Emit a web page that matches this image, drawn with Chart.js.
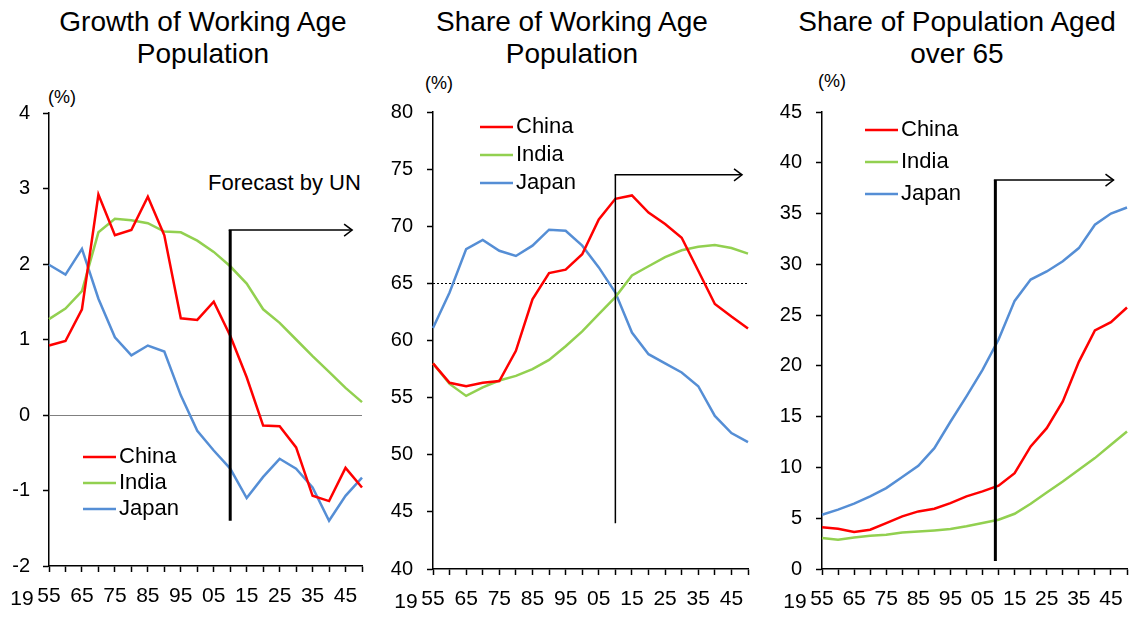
<!DOCTYPE html>
<html>
<head>
<meta charset="utf-8">
<script src="https://cdn.jsdelivr.net/npm/chart.js@4.4.1/dist/chart.umd.min.js"></script>
<style>
  body { margin:0; background:#fff; width:1139px; height:617px; position:relative; overflow:hidden;
         font-family:"Liberation Sans", Arial, sans-serif; color:#000; }
  canvas { position:absolute; top:0; }
  .title { position:absolute; top:6px; font-size:28px; line-height:32px; text-align:center; white-space:nowrap; }
  .unit { position:absolute; font-size:18px; line-height:20px; }
  .note { position:absolute; font-size:22px; line-height:24px; white-space:nowrap; }
</style>
</head>
<body>
<div class="title" style="left:0;width:406px">Growth of Working Age<br>Population</div>
<div class="title" style="left:380px;width:384px">Share of Working Age<br>Population</div>
<div class="title" style="left:775px;width:364px">Share of Population Aged<br>over 65</div>
<div class="unit" style="left:48px;top:87px">(%)</div>
<div class="unit" style="left:425px;top:73px">(%)</div>
<div class="unit" style="left:818px;top:71px">(%)</div>
<div class="note" style="left:208px;top:171px">Forecast by UN</div>

<canvas id="c1" width="380" height="617" style="left:0"></canvas>
<canvas id="c2" width="380" height="617" style="left:380px"></canvas>
<canvas id="c3" width="379" height="617" style="left:760px"></canvas>

<script>
// years 1955..2050, every 5 years
const years = [1955,1960,1965,1970,1975,1980,1985,1990,1995,2000,2005,2010,2015,2020,2025,2030,2035,2040,2045,2050]
const xTickLabels = ['55','','65','','75','','85','','95','','05','','15','','25','','35','','45','']
const xPrefix = '19'
const seriesNames = ['China','India','Japan']
const forecastYear = 2010

// growth of working age population (%)
const growthChina = [0.92,0.98,1.40,2.92,2.38,2.45,2.89,2.38,1.28,1.26,1.50,1.05,0.50,-0.14,-0.15,-0.43,-1.07,-1.14,-0.70,-0.96]
const growthIndia = [1.27,1.41,1.64,2.42,2.60,2.58,2.54,2.43,2.42,2.31,2.16,1.97,1.74,1.40,1.22,1.00,0.78,0.57,0.36,0.17]
const growthJapan = [1.99,1.86,2.20,1.54,1.03,0.79,0.92,0.84,0.26,-0.21,-0.47,-0.71,-1.10,-0.82,-0.58,-0.71,-0.96,-1.40,-1.07,-0.83]

// share of working age population (%)
const shareChina = [58.0,56.3,56.0,56.3,56.45,59.1,63.6,65.9,66.2,67.55,70.6,72.4,72.7,71.2,70.2,69.0,66.1,63.2,62.1,61.05]
const shareIndia = [58.0,56.2,55.15,55.9,56.5,56.9,57.5,58.3,59.5,60.8,62.3,63.8,65.7,66.5,67.3,67.9,68.2,68.35,68.1,67.6]
const shareJapan = [61.1,64.2,68.0,68.8,67.85,67.4,68.3,69.7,69.6,68.3,66.4,64.2,60.7,58.8,58.0,57.2,56.0,53.4,51.9,51.1]

// share of population aged over 65 (%)
const agedChina = [4.1,3.97,3.64,3.87,4.52,5.18,5.67,5.93,6.49,7.15,7.64,8.2,9.44,12.07,13.87,16.5,20.4,23.5,24.3,25.75]
const agedIndia = [3.05,2.89,3.11,3.28,3.38,3.6,3.7,3.8,3.93,4.2,4.52,4.85,5.44,6.43,7.54,8.62,9.77,10.92,12.23,13.54]
const agedJapan = [5.34,5.84,6.43,7.15,7.97,9.05,10.16,11.9,14.5,17.0,19.6,22.6,26.4,28.5,29.3,30.3,31.6,33.9,35.0,35.6]

const colors = ['#FF0000','#92D050','#558ED5']
const fam = '"Liberation Sans", Arial, sans-serif'

const yearIndex = y => (y - years[0]) / 5

const overlay = {
  id: 'overlay',
  beforeDatasetsDraw(chart, args, o) {
    if (o.ref === undefined) return
    const {ctx, chartArea: a, scales: {y}} = chart
    const yy = Math.round(y.getPixelForValue(o.ref.value)) + 0.5
    ctx.save()
    ctx.strokeStyle = o.ref.color
    ctx.lineWidth = 1
    ctx.setLineDash(o.ref.dash || [])
    ctx.beginPath(); ctx.moveTo(a.left, yy); ctx.lineTo(a.right, yy); ctx.stroke()
    ctx.restore()
  },
  afterDatasetsDraw(chart, args, o) {
    const {ctx, scales: {x, y}} = chart
    ctx.save()
    // forecast marker
    const f = o.forecast
    const fx = x.getPixelForValue(yearIndex(f.year))
    const ex = x.getPixelForValue(yearIndex(f.toYear))
    const top = y.getPixelForValue(f.top)
    const bot = y.getPixelForValue(f.bottom)
    ctx.strokeStyle = '#000'
    ctx.lineWidth = f.vWidth
    ctx.beginPath(); ctx.moveTo(fx, bot); ctx.lineTo(fx, top); ctx.stroke()
    ctx.lineWidth = f.hWidth
    ctx.beginPath(); ctx.moveTo(fx - f.vWidth / 2, top); ctx.lineTo(ex, top); ctx.stroke()
    ctx.beginPath(); ctx.moveTo(ex - 8, top - 6); ctx.lineTo(ex, top); ctx.lineTo(ex - 8, top + 6); ctx.stroke()
    // legend
    const lg = o.legend
    ctx.font = '22px ' + fam
    ctx.textBaseline = 'middle'
    ctx.textAlign = 'left'
    chart.data.datasets.forEach((ds, i) => {
      const yy = lg.y + i * lg.gap
      ctx.strokeStyle = ds.borderColor
      ctx.lineWidth = 2.5
      ctx.beginPath(); ctx.moveTo(lg.x, yy); ctx.lineTo(lg.x + 33, yy); ctx.stroke()
      ctx.fillStyle = '#000'
      ctx.fillText(ds.label, lg.x + 36, yy)
    })
    // "19" before the first year label
    ctx.font = '21px ' + fam
    ctx.textAlign = 'center'
    ctx.fillText(xPrefix, x.getPixelForTick(0) - 27, x.top + 33)
    ctx.restore()
  }
}

function makeChart(id, c) {
  return new Chart(document.getElementById(id), {
    type: 'line',
    data: {
      labels: years,
      datasets: c.series.map((d, i) => ({
        label: seriesNames[i], data: d, borderColor: colors[i], backgroundColor: colors[i],
        borderWidth: 2.5, pointRadius: 0, tension: 0, clip: false
      }))
    },
    options: {
      responsive: false, animation: false, devicePixelRatio: 1,
      layout: {padding: {left: 0, top: c.top, right: c.right, bottom: 0}},
      plugins: {
        legend: {display: false}, tooltip: {enabled: false},
        overlay: {ref: c.ref, forecast: c.forecast, legend: c.legend}
      },
      scales: {
        x: {
          offset: false,
          grid: {display: true, drawOnChartArea: false, drawTicks: true, tickLength: 6, tickColor: '#000', tickWidth: 1.5},
          border: {color: '#000', width: 1.5},
          ticks: {autoSkip: false, maxRotation: 0, padding: 12, color: '#000', font: {size: 21, family: fam},
                  callback: (v, i) => xTickLabels[i]},
          afterFit: s => { s.height = c.xh }
        },
        y: {
          min: c.min, max: c.max,
          grid: {display: true, drawOnChartArea: false, drawTicks: true, tickLength: 6, tickColor: '#000', tickWidth: 1.5},
          border: {color: '#000', width: 1.5},
          ticks: {stepSize: c.step, padding: c.pad, color: '#000', font: {size: 20, family: fam}},
          afterFit: s => { s.width = c.yw }
        }
      }
    },
    plugins: [overlay]
  })
}

makeChart('c1', {
  series: [growthChina, growthIndia, growthJapan],
  min: -2, max: 4, step: 1, top: 113, right: 18, yw: 49, xh: 51, pad: 13,
  ref: {value: 0, color: '#808080'},
  forecast: {year: forecastYear, toYear: 2047, top: 2.45, bottom: -1.4, vWidth: 3, hWidth: 1.5},
  legend: {x: 83, y: 457, gap: 26}
})
makeChart('c2', {
  series: [shareChina, shareIndia, shareJapan],
  min: 40, max: 80, step: 5, top: 112, right: 8, yw: 53, xh: 48, pad: 14,
  ref: {value: 65, color: '#000', dash: [2, 2]},
  forecast: {year: forecastYear, toYear: 2048.2, top: 74.5, bottom: 44, vWidth: 1.5, hWidth: 1.5},
  legend: {x: 100, y: 127, gap: 28}
})
makeChart('c3', {
  series: [agedChina, agedIndia, agedJapan],
  min: 0, max: 45, step: 5, top: 112, right: 2, yw: 62, xh: 48, pad: 14,
  forecast: {year: 2009, toYear: 2045.8, top: 38.3, bottom: 0.8, vWidth: 3, hWidth: 1.5},
  legend: {x: 105, y: 130, gap: 32}
})
</script>
</body>
</html>
